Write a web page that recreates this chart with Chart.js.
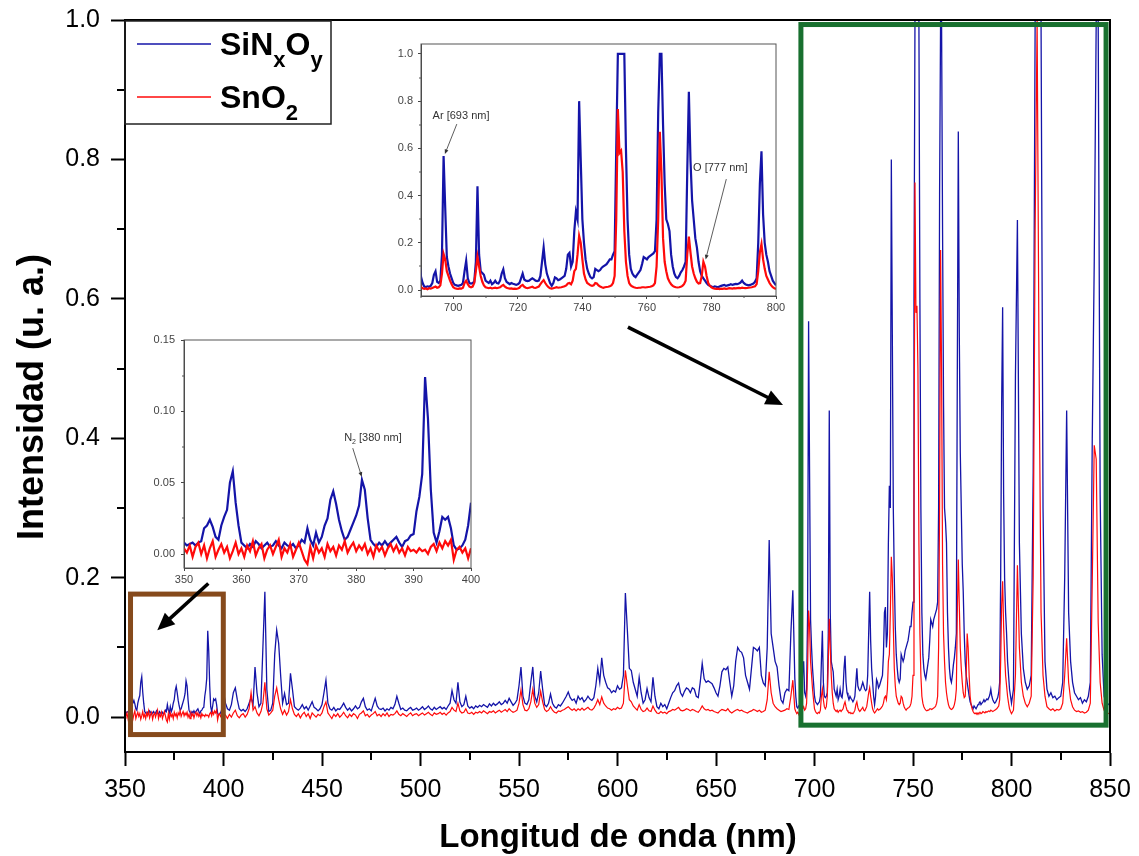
<!DOCTYPE html>
<html>
<head>
<meta charset="utf-8">
<script src="https://cdn.jsdelivr.net/npm/chart.js@4.4.1/dist/chart.umd.min.js"></script>
<style>
  html, body { margin: 0; padding: 0; background: #fff; }
  #wrap { position: relative; width: 1139px; height: 856px; overflow: hidden; }
  #wrap canvas { position: absolute; }
</style>
</head>
<body>
<div id="wrap">
  <canvas id="mainChart" width="1139" height="856" style="left:0;top:0"></canvas>
  <canvas id="insetAr" width="400" height="285" style="left:385px;top:38px"></canvas>
  <canvas id="insetN2" width="340" height="260" style="left:140px;top:330px"></canvas>
</div>
<script>
// ---- Emission spectra, sampled in four wavelength bands ----
// band 1: 350–400 nm every 0.5 nm
const band1Start = 350, band1Step = 0.5;
const sinoxBand1 = [
  0.008,0.006,0.007,0.008,0.006,0.008,0.009,0.018,0.020,0.024,
  0.019,0.012,0.010,0.020,0.026,0.031,0.050,0.058,0.036,0.020,
  0.008,0.006,0.004,0.007,0.005,0.009,0.007,0.004,0.006,0.008,
  0.005,0.006,0.009,0.006,0.004,0.008,0.006,0.005,0.007,0.004,
  0.006,0.010,0.008,0.018,0.010,0.006,0.015,0.008,0.012,0.020,
  0.025,0.038,0.044,0.035,0.024,0.016,0.010,0.012,0.017,0.022,
  0.027,0.034,0.052,0.045,0.025,0.010,0.007,0.005,0.008,0.006,
  0.009,0.006,0.008,0.010,0.012,0.008,0.005,0.009,0.010,0.013,
  0.014,0.030,0.040,0.056,0.124,0.095,0.045,0.015,0.008,0.016,
  0.026,0.024,0.026,0.018,0.006,0.003,0.004,0.006,0.010,0.020,
  0.036
];
const sno2Band1 = [
  0.004,0.001,0.006,-0.002,0.005,0.008,0.000,0.006,-0.003,0.004,
  0.009,-0.002,0.003,0.007,0.001,0.005,-0.003,0.002,0.008,0.000,
  0.004,-0.002,0.006,0.002,0.009,-0.001,0.004,0.007,-0.003,0.003,
  0.006,0.000,0.005,0.010,-0.002,0.004,0.001,0.007,-0.002,0.003,
  0.008,0.002,-0.004,-0.007,0.005,-0.003,0.006,0.001,0.004,-0.002,
  0.007,0.002,0.005,-0.001,0.006,0.003,0.009,0.001,0.005,0.008,
  0.002,0.006,0.003,0.007,0.000,0.004,-0.002,0.006,0.002,0.005,
  -0.001,0.004,0.007,0.002,0.006,0.001,0.004,-0.001,0.005,0.002,
  0.003,0.001,0.004,0.002,0.003,0.000,0.005,0.007,0.002,0.008,
  0.004,0.009,0.006,0.010,-0.004,0.003,0.005,0.001,0.004,-0.003,
  0.004
];

// band 2: 401–689 nm every 1 nm
const band2Start = 401, band2Step = 1;
const sinoxBand2 = [
  0.020,0.012,0.010,0.018,0.035,0.042,0.025,0.012,0.009,0.011,
  0.008,0.012,0.020,0.028,0.018,0.072,0.035,0.015,0.020,0.100,
  0.180,0.040,0.008,0.010,0.020,0.090,0.125,0.106,0.060,0.020,
  0.034,0.018,0.020,0.063,0.040,0.015,0.012,0.010,0.013,0.018,
  0.012,0.015,0.010,0.016,0.022,0.014,0.012,0.009,0.012,0.018,
  0.035,0.053,0.020,0.012,0.010,0.014,0.009,0.012,0.011,0.015,
  0.020,0.014,0.010,0.013,0.009,0.012,0.016,0.012,0.014,0.022,
  0.027,0.015,0.010,0.012,0.009,0.018,0.027,0.016,0.012,0.011,
  0.013,0.009,0.012,0.010,0.014,0.012,0.018,0.030,0.020,0.011,
  0.013,0.010,0.009,0.012,0.014,0.010,0.011,0.013,0.010,0.012,
  0.015,0.011,0.013,0.016,0.012,0.010,0.014,0.011,0.013,0.015,
  0.012,0.014,0.011,0.016,0.020,0.038,0.025,0.020,0.050,0.022,
  0.015,0.018,0.030,0.016,0.013,0.015,0.012,0.016,0.014,0.017,
  0.015,0.018,0.016,0.014,0.019,0.016,0.020,0.017,0.019,0.022,
  0.018,0.020,0.024,0.020,0.027,0.022,0.017,0.020,0.025,0.045,
  0.072,0.030,0.020,0.018,0.025,0.050,0.072,0.030,0.022,0.035,
  0.066,0.040,0.018,0.015,0.020,0.033,0.020,0.015,0.013,0.018,
  0.016,0.020,0.025,0.030,0.036,0.028,0.024,0.026,0.020,0.030,
  0.025,0.028,0.022,0.025,0.030,0.026,0.024,0.028,0.045,0.070,
  0.050,0.085,0.060,0.050,0.042,0.040,0.035,0.038,0.036,0.045,
  0.040,0.042,0.060,0.178,0.125,0.070,0.067,0.050,0.040,0.030,
  0.057,0.035,0.020,0.025,0.041,0.028,0.022,0.057,0.030,0.015,
  0.012,0.020,0.015,0.018,0.012,0.020,0.028,0.035,0.038,0.045,
  0.049,0.035,0.030,0.037,0.042,0.040,0.035,0.042,0.040,0.030,
  0.028,0.050,0.077,0.055,0.050,0.052,0.050,0.048,0.042,0.035,
  0.030,0.045,0.065,0.070,0.068,0.072,0.050,0.030,0.045,0.080,
  0.100,0.095,0.093,0.085,0.060,0.050,0.040,0.070,0.100,0.098,
  0.095,0.100,0.060,0.049,0.045,0.100,0.254,0.120,0.100,0.080,
  0.072,0.045,0.025,0.020,0.035,0.040,0.038,0.120,0.182
];
const sno2Band2 = [
  0.003,-0.002,0.004,0.000,0.006,0.010,0.002,-0.001,0.003,0.005,
  0.000,0.004,0.012,0.035,0.010,0.015,0.006,0.002,0.008,0.020,
  0.050,0.012,0.003,0.006,0.010,0.030,0.042,0.025,0.012,0.004,
  0.010,0.003,0.008,0.025,0.012,0.004,0.001,0.005,-0.001,0.004,
  0.007,0.001,0.005,-0.002,0.006,0.003,0.000,0.004,0.002,0.006,
  0.015,0.022,0.006,0.002,-0.002,0.004,0.001,0.005,0.000,0.003,
  0.007,0.002,-0.001,0.004,0.001,0.005,0.003,-0.002,0.004,0.006,
  0.009,0.002,0.004,0.000,0.003,0.005,0.008,0.002,0.004,0.001,
  0.005,0.002,0.006,0.001,0.004,0.003,0.005,0.009,0.004,0.002,
  0.005,0.003,0.001,0.004,0.006,0.002,0.004,0.005,0.002,0.004,
  0.006,0.003,0.005,0.007,0.004,0.002,0.006,0.004,0.005,0.007,
  0.004,0.006,0.003,0.006,0.008,0.014,0.010,0.008,0.020,0.009,
  0.006,0.007,0.012,0.006,0.005,0.007,0.004,0.007,0.006,0.008,
  0.006,0.009,0.007,0.005,0.008,0.007,0.009,0.006,0.008,0.010,
  0.007,0.009,0.011,0.008,0.012,0.009,0.007,0.008,0.010,0.020,
  0.039,0.018,0.010,0.009,0.012,0.022,0.040,0.020,0.014,0.018,
  0.037,0.022,0.011,0.008,0.010,0.015,0.010,0.007,0.006,0.009,
  0.008,0.010,0.011,0.013,0.015,0.012,0.010,0.012,0.009,0.012,
  0.010,0.013,0.010,0.012,0.014,0.011,0.010,0.013,0.018,0.025,
  0.018,0.029,0.020,0.016,0.013,0.012,0.010,0.012,0.011,0.014,
  0.012,0.013,0.020,0.067,0.045,0.025,0.022,0.016,0.013,0.010,
  0.018,0.011,0.008,0.009,0.013,0.009,0.008,0.016,0.010,0.006,
  0.005,0.008,0.006,0.007,0.005,0.008,0.009,0.011,0.010,0.012,
  0.014,0.010,0.009,0.010,0.012,0.011,0.009,0.011,0.010,0.008,
  0.007,0.011,0.016,0.012,0.010,0.011,0.009,0.010,0.008,0.007,
  0.006,0.009,0.011,0.010,0.009,0.012,0.008,0.006,0.008,0.010,
  0.011,0.009,0.010,0.008,0.007,0.006,0.008,0.009,0.011,0.010,
  0.008,0.010,0.007,0.008,0.010,0.025,0.065,0.035,0.020,0.015,
  0.012,0.010,0.008,0.009,0.010,0.012,0.011,0.030,0.053
];

// band 3: 690–800 nm every 0.5 nm
const band3Start = 690, band3Step = 0.5;
const sinoxBand3 = [
  0.056,0.030,0.015,0.013,0.016,0.014,0.018,0.030,0.065,0.080,
  0.035,0.030,0.040,0.150,0.568,0.350,0.140,0.100,0.070,0.050,
  0.030,0.022,0.020,0.018,0.020,0.022,0.030,0.080,0.124,0.050,
  0.030,0.028,0.030,0.035,0.120,0.440,0.150,0.080,0.072,0.065,
  0.040,0.035,0.030,0.040,0.025,0.030,0.040,0.030,0.028,0.040,
  0.070,0.088,0.050,0.035,0.030,0.025,0.030,0.027,0.025,0.022,
  0.025,0.030,0.050,0.070,0.045,0.040,0.038,0.040,0.045,0.050,
  0.045,0.040,0.038,0.040,0.060,0.120,0.180,0.110,0.070,0.050,
  0.030,0.018,0.030,0.054,0.050,0.042,0.045,0.050,0.055,0.060,
  0.090,0.150,0.158,0.100,0.120,0.250,0.332,0.300,0.800,0.550,
  0.300,0.200,0.130,0.090,0.070,0.055,0.050,0.055,0.090,0.085,
  0.080,0.085,0.095,0.100,0.105,0.110,0.120,0.130,0.130,0.150,
  0.165,0.600,1.000,1.000,1.000,1.000,1.000,0.600,0.300,0.150,
  0.090,0.070,0.060,0.055,0.065,0.075,0.085,0.110,0.140,0.135,
  0.130,0.140,0.145,0.150,0.155,0.165,0.300,0.750,1.000,1.000,
  0.700,0.450,0.300,0.280,0.250,0.150,0.100,0.070,0.055,0.050,
  0.060,0.075,0.085,0.100,0.120,0.500,0.840,0.550,0.380,0.300,
  0.220,0.180,0.120,0.080,0.060,0.050,0.040,0.030,0.022,0.018,
  0.015,0.012,0.016,0.014,0.012,0.015,0.018,0.020,0.022,0.018,
  0.020,0.022,0.025,0.022,0.024,0.026,0.025,0.028,0.032,0.040,
  0.030,0.025,0.022,0.020,0.022,0.025,0.028,0.035,0.050,0.200,
  0.450,0.588,0.320,0.200,0.150,0.120,0.080,0.060,0.040,0.030,
  0.020
];
const sno2Band3 = [
  0.012,0.008,0.005,0.007,0.004,0.008,0.006,0.009,0.012,0.015,
  0.010,0.012,0.020,0.070,0.153,0.130,0.080,0.060,0.040,0.025,
  0.012,0.008,0.006,0.005,0.007,0.006,0.010,0.030,0.040,0.025,
  0.015,0.012,0.015,0.030,0.080,0.141,0.100,0.060,0.035,0.020,
  0.012,0.010,0.008,0.010,0.007,0.009,0.010,0.008,0.010,0.012,
  0.018,0.022,0.015,0.010,0.008,0.006,0.007,0.005,0.006,0.005,
  0.007,0.010,0.018,0.022,0.014,0.010,0.008,0.010,0.012,0.014,
  0.010,0.009,0.012,0.015,0.025,0.035,0.042,0.030,0.020,0.012,
  0.008,0.006,0.008,0.010,0.012,0.010,0.011,0.012,0.014,0.016,
  0.020,0.028,0.030,0.025,0.040,0.080,0.090,0.150,0.230,0.200,
  0.130,0.070,0.045,0.030,0.025,0.020,0.018,0.020,0.030,0.028,
  0.020,0.015,0.012,0.010,0.012,0.013,0.014,0.016,0.020,0.030,
  0.060,0.300,0.767,0.580,0.590,0.500,0.250,0.120,0.060,0.030,
  0.020,0.015,0.012,0.010,0.009,0.010,0.010,0.012,0.012,0.011,
  0.012,0.013,0.014,0.016,0.020,0.030,0.100,0.300,0.670,0.500,
  0.220,0.120,0.080,0.050,0.035,0.025,0.018,0.014,0.012,0.011,
  0.012,0.014,0.018,0.025,0.040,0.150,0.226,0.160,0.100,0.070,
  0.050,0.035,0.028,0.030,0.060,0.120,0.100,0.060,0.030,0.018,
  0.012,0.008,0.006,0.005,0.006,0.004,0.006,0.005,0.007,0.005,
  0.006,0.008,0.007,0.006,0.008,0.007,0.008,0.009,0.008,0.010,
  0.009,0.008,0.009,0.010,0.011,0.012,0.014,0.016,0.025,0.080,
  0.160,0.195,0.130,0.090,0.060,0.045,0.030,0.020,0.012,0.008,
  0.005
];

// band 4: 801–850 nm every 1 nm
const band4Start = 801, band4Step = 1;
const sinoxBand4 = [
  0.040,0.490,0.713,0.250,0.120,0.070,0.050,0.040,0.045,0.060,
  0.350,1.000,1.000,1.000,1.000,0.300,0.080,0.040,0.030,0.035,
  0.028,0.030,0.025,0.028,0.030,0.050,0.200,0.440,0.150,0.080,
  0.050,0.035,0.030,0.025,0.028,0.020,0.025,0.022,0.030,0.050,
  0.400,0.653,1.000,1.000,0.320,0.090,0.030,0.020,0.018,0.020
];
const sno2Band4 = [
  0.010,0.060,0.218,0.100,0.050,0.030,0.020,0.015,0.020,0.030,
  0.200,0.700,1.000,0.500,0.150,0.060,0.030,0.015,0.012,0.010,
  0.012,0.009,0.011,0.010,0.012,0.020,0.060,0.113,0.050,0.025,
  0.015,0.010,0.008,0.009,0.007,0.008,0.006,0.007,0.010,0.020,
  0.195,0.390,0.370,0.136,0.050,0.020,0.010,0.006,0.005,0.006
];

// ---- axis ticks ----
const mainXTicks = [350, 400, 450, 500, 550, 600, 650, 700, 750, 800, 850];
const mainYTicks = [0.0, 0.2, 0.4, 0.6, 0.8, 1.0];
const arXTicks = [700, 720, 740, 760, 780, 800];
const arYTicks = [0.0, 0.2, 0.4, 0.6, 0.8, 1.0];
const n2XTicks = [350, 360, 370, 380, 390, 400];
const n2YTicks = [0.00, 0.05, 0.10, 0.15];

const seriesNames = ['SiNxOy', 'SnO2'];
const BLUE = '#1414a8';
const RED = '#ff0a0a';
const FONT = '"Liberation Sans", Arial, Helvetica, sans-serif';

// build {x,y} points from the sampled bands
function bandPoints(start, step, values) {
  return values.map((v, i) => ({ x: +(start + i * step).toFixed(2), y: v }));
}
const sinoxPoints = [
  ...bandPoints(band1Start, band1Step, sinoxBand1),
  ...bandPoints(band2Start, band2Step, sinoxBand2),
  ...bandPoints(band3Start, band3Step, sinoxBand3),
  ...bandPoints(band4Start, band4Step, sinoxBand4)
];
const sno2Points = [
  ...bandPoints(band1Start, band1Step, sno2Band1),
  ...bandPoints(band2Start, band2Step, sno2Band2),
  ...bandPoints(band3Start, band3Step, sno2Band3),
  ...bandPoints(band4Start, band4Step, sno2Band4)
];

function between(list, lo, hi) {
  return list.filter(p => p.x >= lo && p.x <= hi);
}

// ---- drawing helpers ----
function drawArrow(ctx, x1, y1, x2, y2, width, head, spread, color) {
  const a = Math.atan2(y2 - y1, x2 - x1);
  ctx.save();
  ctx.strokeStyle = color; ctx.fillStyle = color; ctx.lineWidth = width;
  ctx.beginPath();
  ctx.moveTo(x1, y1);
  ctx.lineTo(x2 - head * 0.8 * Math.cos(a), y2 - head * 0.8 * Math.sin(a));
  ctx.stroke();
  ctx.beginPath();
  ctx.moveTo(x2, y2);
  ctx.lineTo(x2 - head * Math.cos(a - spread), y2 - head * Math.sin(a - spread));
  ctx.lineTo(x2 - head * Math.cos(a + spread), y2 - head * Math.sin(a + spread));
  ctx.closePath();
  ctx.fill();
  ctx.restore();
}

function drawFrameAndMinor(chart, o) {
  const { ctx, chartArea: a, scales: { x, y } } = chart;
  ctx.save();
  ctx.strokeStyle = o.frameColor;
  ctx.lineWidth = o.frameWidth;
  ctx.strokeRect(a.left, a.top, a.right - a.left, a.bottom - a.top);
  ctx.strokeStyle = o.tickColor;
  ctx.lineWidth = o.minorWidth;
  ctx.beginPath();
  for (const v of o.xMinor) {
    const px = Math.round(x.getPixelForValue(v));
    ctx.moveTo(px, a.bottom); ctx.lineTo(px, a.bottom + o.minorLen);
  }
  for (const v of o.yMinor) {
    const py = Math.round(y.getPixelForValue(v));
    ctx.moveTo(a.left, py); ctx.lineTo(a.left - o.minorLen, py);
  }
  ctx.stroke();
  ctx.restore();
}

function lineDataset(label, points, color, width, order) {
  return {
    label, data: points, borderColor: color, backgroundColor: color,
    borderWidth: width, pointRadius: 0, tension: 0, fill: false, order
  };
}

// axes keep a fixed size so the plot area sits exactly where the layout padding puts it
function axisX(min, max, ticks, fontSize, color, tickLen, tickW, pad, height, fmt) {
  return {
    type: 'linear', min, max,
    afterBuildTicks: s => { s.ticks = ticks.map(v => ({ value: v })); },
    afterFit: s => { s.height = height; s.paddingLeft = 0; s.paddingRight = 0; },
    ticks: { font: { family: FONT, size: fontSize }, color, padding: pad, maxRotation: 0, autoSkip: false, callback: fmt },
    grid: { drawOnChartArea: false, tickLength: tickLen, tickWidth: tickW, tickColor: color },
    border: { color, width: tickW }
  };
}
function axisY(min, max, ticks, fontSize, color, tickLen, tickW, pad, width, fmt) {
  return {
    type: 'linear', min, max,
    afterBuildTicks: s => { s.ticks = ticks.map(v => ({ value: v })); },
    afterFit: s => { s.width = width; s.paddingTop = 0; s.paddingBottom = 0; },
    ticks: { font: { family: FONT, size: fontSize }, color, padding: pad, autoSkip: false, callback: fmt },
    grid: { drawOnChartArea: false, tickLength: tickLen, tickWidth: tickW, tickColor: color },
    border: { color, width: tickW }
  };
}

const common = {
  responsive: false, animation: false, devicePixelRatio: 1,
  parsing: false, normalized: true,
  plugins: { legend: { display: false }, tooltip: { enabled: false } },
  events: []
};

// ---- main spectrum ----
const mainDecor = {
  id: 'mainDecor',
  afterDatasetsDraw(chart) {
    const { ctx, scales: { x, y } } = chart;
    // zoom boxes
    ctx.save();
    ctx.lineWidth = 5;
    ctx.strokeStyle = '#864a1c';
    const bx1 = x.getPixelForValue(352.8), bx2 = x.getPixelForValue(399.9);
    const by1 = y.getPixelForValue(0.1765), by2 = y.getPixelForValue(-0.025);
    ctx.strokeRect(bx1, by1, bx2 - bx1, by2 - by1);
    ctx.strokeStyle = '#18702f';
    const gx1 = x.getPixelForValue(693.1), gx2 = x.getPixelForValue(848.0);
    const gy1 = y.getPixelForValue(0.9935), gy2 = y.getPixelForValue(-0.0115);
    ctx.strokeRect(gx1, gy1, gx2 - gx1, gy2 - gy1);
    ctx.restore();
  },
  afterDraw(chart) {
    const { ctx, scales: { x, y } } = chart;
    drawFrameAndMinor(chart, {
      frameColor: '#000', frameWidth: 2, tickColor: '#000', minorWidth: 2, minorLen: 8,
      xMinor: [375, 425, 475, 525, 575, 625, 675, 725, 775, 825],
      yMinor: [0.1, 0.3, 0.5, 0.7, 0.9]
    });
    // arrows pointing at the insets
    drawArrow(ctx, x.getPixelForValue(392.3), y.getPixelForValue(0.1918),
      x.getPixelForValue(366.4), y.getPixelForValue(0.1248), 3.5, 19, 0.42, '#000');
    drawArrow(ctx, x.getPixelForValue(605.3), y.getPixelForValue(0.5595),
      x.getPixelForValue(684.0), y.getPixelForValue(0.4476), 3.5, 19, 0.42, '#000');

    // legend
    ctx.save();
    ctx.strokeStyle = '#222';
    ctx.lineWidth = 1.5;
    ctx.strokeRect(125, 21, 206, 103);
    ctx.lineWidth = 1.6;
    ctx.strokeStyle = BLUE;
    ctx.beginPath(); ctx.moveTo(137, 44); ctx.lineTo(211, 44); ctx.stroke();
    ctx.strokeStyle = RED;
    ctx.beginPath(); ctx.moveTo(137, 97); ctx.lineTo(211, 97); ctx.stroke();
    ctx.fillStyle = '#000';
    ctx.textBaseline = 'alphabetic';
    ctx.textAlign = 'left';
    const big = 'bold 32px ' + FONT, small = 'bold 22px ' + FONT;
    let cx = 220;
    const parts1 = [['SiN', big, 55], ['x', small, 67], ['O', big, 55], ['y', small, 67]];
    for (const [t, f, by] of parts1) { ctx.font = f; ctx.fillText(t, cx, by); cx += ctx.measureText(t).width; }
    cx = 220;
    const parts2 = [['SnO', big, 108], ['2', small, 120]];
    for (const [t, f, by] of parts2) { ctx.font = f; ctx.fillText(t, cx, by); cx += ctx.measureText(t).width; }

    // axis titles
    ctx.font = 'bold 33px ' + FONT;
    ctx.textAlign = 'center';
    ctx.textBaseline = 'alphabetic';
    ctx.fillText('Longitud de onda (nm)', 618, 847);
    ctx.font = 'bold 36px ' + FONT;
    ctx.translate(33, 397);
    ctx.rotate(-Math.PI / 2);
    ctx.textBaseline = 'middle';
    ctx.fillText('Intensidad (u. a.)', 0, 0);
    ctx.restore();
  }
};

new Chart(document.getElementById('mainChart'), {
  type: 'line',
  data: {
    datasets: [
      lineDataset(seriesNames[0], sinoxPoints, BLUE, 1.3, 1),
      lineDataset(seriesNames[1], sno2Points, RED, 1.2, 0)
    ]
  },
  options: {
    ...common,
    layout: { padding: { left: 0, right: 29, top: 20, bottom: 0 } },
    scales: {
      x: axisX(350, 850, mainXTicks, 25, '#000', 14, 2, 9, 104, v => String(v)),
      y: axisY(-0.05, 1.0, mainYTicks, 25, '#000', 14, 2, 11, 125, v => v.toFixed(1))
    }
  },
  plugins: [mainDecor]
});

// ---- inset: 690–800 nm ----
const arDecor = {
  id: 'arDecor',
  afterDraw(chart) {
    const { ctx, scales: { x, y } } = chart;
    drawFrameAndMinor(chart, {
      frameColor: '#555', frameWidth: 1, tickColor: '#555', minorWidth: 1, minorLen: 2,
      xMinor: [690, 710, 730, 750, 770, 790],
      yMinor: [0.1, 0.3, 0.5, 0.7, 0.9]
    });
    ctx.save();
    ctx.fillStyle = '#333';
    ctx.font = '11px ' + FONT;
    ctx.textBaseline = 'middle';
    ctx.textAlign = 'left';
    ctx.fillText('Ar [693 nm]', x.getPixelForValue(693.6), y.getPixelForValue(0.737));
    ctx.fillText('O [777 nm]', x.getPixelForValue(774.3), y.getPixelForValue(0.518));
    ctx.restore();
    drawArrow(ctx, x.getPixelForValue(701.1), y.getPixelForValue(0.703),
      x.getPixelForValue(697.4), y.getPixelForValue(0.576), 0.8, 5, 0.4, '#333');
    drawArrow(ctx, x.getPixelForValue(784.6), y.getPixelForValue(0.470),
      x.getPixelForValue(778.2), y.getPixelForValue(0.130), 0.8, 5, 0.4, '#333');
  }
};

new Chart(document.getElementById('insetAr'), {
  type: 'line',
  data: {
    datasets: [
      lineDataset(seriesNames[0], between(sinoxPoints, 689, 801), BLUE, 2.2, 1),
      lineDataset(seriesNames[1], between(sno2Points, 689, 801), RED, 2.2, 0)
    ]
  },
  options: {
    ...common,
    layout: { padding: { left: 0, right: 9, top: 6, bottom: 0 } },
    scales: {
      x: axisX(690, 800, arXTicks, 11, '#444', 3, 1, 2, 27, v => String(v)),
      y: axisY(-0.025, 1.042, arYTicks, 11, '#444', 3, 1, 5, 36, v => v.toFixed(1))
    }
  },
  plugins: [arDecor]
});

// ---- inset: 350–400 nm ----
const n2Decor = {
  id: 'n2Decor',
  afterDraw(chart) {
    const { ctx, scales: { x, y } } = chart;
    drawFrameAndMinor(chart, {
      frameColor: '#555', frameWidth: 1, tickColor: '#555', minorWidth: 1, minorLen: 2,
      xMinor: [355, 365, 375, 385, 395],
      yMinor: [0.025, 0.075, 0.125]
    });
    ctx.save();
    ctx.fillStyle = '#333';
    ctx.textBaseline = 'alphabetic';
    ctx.textAlign = 'left';
    let tx = x.getPixelForValue(377.9);
    const ty = y.getPixelForValue(0.0817) + 4;
    const parts = [['N', '11px ' + FONT, 0], ['2', '7px ' + FONT, 3], [' [380 nm]', '11px ' + FONT, 0]];
    for (const [t, f, dy] of parts) { ctx.font = f; ctx.fillText(t, tx, ty + dy); tx += ctx.measureText(t).width; }
    ctx.restore();
    drawArrow(ctx, x.getPixelForValue(379.4), y.getPixelForValue(0.0742),
      x.getPixelForValue(380.96), y.getPixelForValue(0.0541), 0.8, 5, 0.4, '#333');
  }
};

new Chart(document.getElementById('insetN2'), {
  type: 'line',
  data: {
    datasets: [
      lineDataset(seriesNames[0], between(sinoxPoints, 350, 400), BLUE, 2.2, 1),
      lineDataset(seriesNames[1], between(sno2Points, 350, 400), RED, 2.2, 0)
    ]
  },
  options: {
    ...common,
    layout: { padding: { left: 0, right: 9, top: 10, bottom: 0 } },
    scales: {
      x: axisX(350, 400, n2XTicks, 11, '#444', 3, 1, 2, 22, v => String(v)),
      y: axisY(-0.0098, 0.15, n2YTicks, 11, '#444', 3, 1, 6, 44, v => v.toFixed(2))
    }
  },
  plugins: [n2Decor]
});
</script>
</body>
</html>
